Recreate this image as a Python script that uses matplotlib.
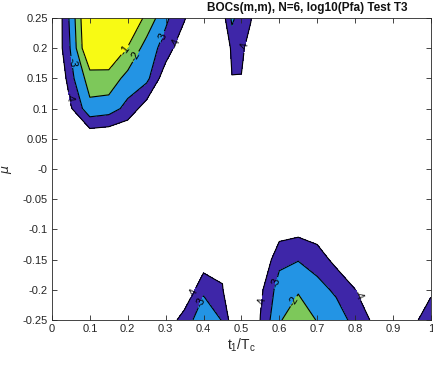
import numpy as np
import matplotlib
matplotlib.use("Agg")
import matplotlib.pyplot as plt

plt.rcParams['font.family'] = ['Liberation Sans', 'DejaVu Sans']
plt.rcParams['axes.unicode_minus'] = False
plt.rcParams['mathtext.default'] = 'regular'

# grid of t1/Tc values (columns) and mu values (rows)
t1 = [0.0, 0.05, 0.1, 0.15, 0.2, 0.25, 0.3, 0.35, 0.4, 0.45, 0.475, 0.5,
      0.525, 0.55, 0.6, 0.65, 0.7, 0.75, 0.8, 0.85, 0.9, 0.95, 1.0]
mu = [-0.25, -0.2, -0.15, -0.1, -0.05, 0.0, 0.05, 0.1, 0.15, 0.2, 0.25]

B = -6.0
# log10(Pfa), rows from mu=-0.25 up to mu=0.25
logpfa = [
    [B, B, B, B, B, B, -4.8, -3.47, -2.4, -3.05, -4.5, B, B, -3.95, -2.1, -1.39, -2.05, -2.4, -3.37, -4.18, B, -4.2, -3.6],
    [B, B, B, B, B, B, B, -5.0, -3.15, -3.9, -5.5, B, B, -4.24, -2.52, -2.1, -2.6, -3.2, -3.95, B, B, B, -4.13],
    [B, B, B, B, B, B, B, B, -4.67, -4.4, B, B, B, -5.0, -3.28, -3.05, -3.5, -4.3, B, B, B, B, B],
    [B, B, B, B, B, B, B, B, B, B, B, B, B, B, -4.48, -4.33, -4.5, B, B, B, B, B, B],
    [B] * 23,
    [B] * 23,
    [B, -5.5, -4.88, -5.0, -5.1, B, B, B, B, B, B, B, B, B, B, B, B, B, B, B, B, B, B],
    [B, -4.1, -2.3, -2.5, -3.33, -4.53, B, B, B, B, B, B, B, B, B, B, B, B, B, B, B, B, B],
    [B, -3.3, -1.5, -1.4, -2.34, -2.73, -4.65, B, B, B, -4.05, -4.05, B, B, B, B, B, B, B, B, B, B, B],
    [-5.3, -2.9, 0.3, 0.0, -1.05, -2.45, -3.4, -4.88, B, B, -3.62, -3.7, -4.64, B, B, B, B, B, B, B, B, B, B],
    [-5.5, -2.7, 0.5, 0.5, 0.0, -1.25, -2.8, -3.9, B, -4.5, -2.8, -3.5, -3.9, B, B, B, B, B, B, B, B, B, B],
]

levels = [-4, -3, -2, -1]
fill_colors = ['#3E26A8', '#2394E4', '#7DC85A', '#F8FA14']

# label anchor points (data coords)
label_pts = [(0.193, 0.197), (0.227, 0.184), (0.29, 0.219), (0.319, 0.209),
             (0.053, 0.177), (0.053, 0.119), (0.522, 0.20),
             (0.37, -0.204), (0.398, -0.222),
             (0.554, -0.219), (0.60, -0.19), (0.633, -0.217), (0.807, -0.209)]

X = np.array(t1)
Y = np.array(mu)
Z = np.array(logpfa)

fig = plt.figure(figsize=(4.33, 3.67), dpi=100)
ax = fig.add_axes([0.120, 0.128, 0.875, 0.823])

ax.contourf(X, Y, Z, levels=levels + [10], colors=fill_colors)
cs = ax.contour(X, Y, Z, levels=levels, colors='k', linewidths=0.8, linestyles='solid')
ax.clabel(cs, fmt='%d', fontsize=8, colors='k', inline=True, inline_spacing=1,
          manual=label_pts)

ax.set_xlim(0, 1)
ax.set_ylim(-0.25, 0.25)
ax.set_xticks(np.arange(0, 1.01, 0.1))
ax.set_xticklabels(['0', '0.1', '0.2', '0.3', '0.4', '0.5', '0.6', '0.7', '0.8', '0.9', '1'])
yt = np.round(np.arange(-0.25, 0.2501, 0.05), 2)
ax.set_yticks(yt)
ax.set_yticklabels(['%g' % v for v in yt])
ax.tick_params(direction='in', length=3.5, width=0.6, colors='#262626', labelsize=8,
               top=True, right=True, pad=3)
for s in ax.spines.values():
    s.set_color('#262626')
    s.set_linewidth(0.6)

ax.set_xlabel('t$_{1}$/T$_{c}$', fontsize=10, color='#262626', labelpad=2)
ax.set_ylabel('$\\mathit{\\mu}$', fontsize=9, color='#262626', labelpad=6)
ax.text(0.675, 1.012, 'BOCs(m,m), N=6, log10(Pfa) Test T3', transform=ax.transAxes,
        ha='center', va='bottom', fontsize=8.5, fontweight='bold', color='#111111')

fig.savefig('out.png', dpi=100)
